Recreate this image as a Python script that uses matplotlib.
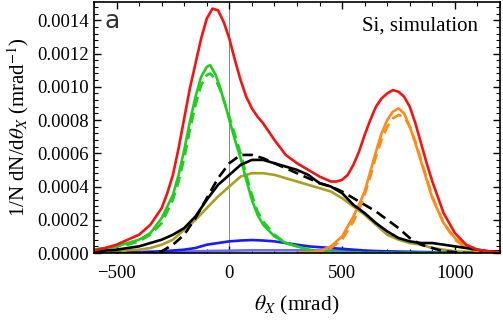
import matplotlib
matplotlib.use("Agg")
import matplotlib.pyplot as plt
from matplotlib.ticker import MultipleLocator, FormatStrFormatter

plt.rcParams['font.family'] = ['Liberation Serif', 'DejaVu Serif']
plt.rcParams['mathtext.fontset'] = 'stix'

# total (red)
red_x = [-600, -550, -500, -450, -400, -350, -300, -275, -250, -225, -200, -175, -150, -125, -100,
         -75, -50, -25, 0, 25, 50, 75, 100, 125, 150, 200, 250, 300, 350, 400, 450, 475, 500, 525,
         550, 575, 600, 625, 650, 675, 700, 725, 750, 775, 800, 825, 850, 875, 900, 950, 1000,
         1050, 1100, 1150, 1200]
red_y = [0.000015, 0.00003, 0.00005, 0.00008, 0.00011, 0.00017, 0.00027, 0.00036, 0.00047, 0.00063,
         0.00081, 0.00099, 0.00114, 0.00129, 0.00141,
         0.00147, 0.00146, 0.00139, 0.00129, 0.00116, 0.00104, 0.00094, 0.00087, 0.00082, 0.00078,
         0.00068, 0.00059, 0.00054, 0.0005, 0.00046, 0.00043, 0.00043, 0.00044, 0.00047,
         0.00053, 0.00061, 0.00071, 0.0008, 0.00088, 0.00093, 0.00096, 0.00098, 0.00097, 0.00094,
         0.00088, 0.00078, 0.00066, 0.00054, 0.00043, 0.00024, 0.00012,
         0.00005, 0.00002, 0.00001, 0.000005]

# left peak (green), solid and dashed
green_x = [-600, -550, -500, -450, -400, -350, -300, -250, -225, -200, -175, -150, -125, -100, -85,
           -60, -40, -20, 0, 25, 50, 75, 100, 125, 150, 200, 250, 300, 350, 400, 450, 600, 900, 1200]
green_y = [0.00002, 0.00003, 0.00004, 0.00006, 0.00008, 0.00012, 0.00021, 0.00035, 0.00047, 0.00062,
           0.00079, 0.00094, 0.00106, 0.00112, 0.00113,
           0.00107, 0.00099, 0.0009, 0.0008, 0.00068, 0.00057, 0.00044, 0.00032, 0.00023, 0.00017,
           0.0001, 0.00006, 0.00004, 0.00002, 0.00001, 0.000005, 0.0, 0.0, 0.0]
green_dash_y = [0.00002, 0.00003, 0.00004, 0.00005, 0.00007, 0.00011, 0.00018, 0.00032, 0.00043,
                0.00057, 0.00074, 0.00089, 0.00101, 0.00107, 0.00108,
                0.00104, 0.00098, 0.0009, 0.00082, 0.00071, 0.0006, 0.00047, 0.00035, 0.00025,
                0.00019, 0.00011, 0.00006, 0.00004, 0.00002, 0.00001, 0.000005, 0.0, 0.0, 0.0]

# right peak (orange), solid and dashed
orange_x = [300, 350, 400, 450, 500, 550, 575, 600, 625, 650, 675, 700, 725, 750, 775, 800, 825,
            850, 875, 900, 950, 1000, 1050, 1100, 1150, 1200]
orange_y = [0.0, 0.000003, 0.00001, 0.00004, 0.0001, 0.00022, 0.00029, 0.00037, 0.00049, 0.00061,
            0.00072, 0.0008, 0.00085, 0.00087, 0.00084, 0.00076, 0.00066, 0.00055, 0.00044,
            0.00033, 0.00018, 0.00009, 0.00004, 0.00001, 0.000005, 0.0]
orange_dash_y = [0.0, 0.000002, 0.000008, 0.00003, 0.00008, 0.00019, 0.00026, 0.00035, 0.00046,
                 0.00058, 0.00068, 0.00076, 0.00081, 0.00083, 0.00082, 0.00076, 0.00067, 0.00056,
                 0.00045, 0.00034, 0.00018, 0.00008, 0.00003, 0.00001, 0.000004, 0.0]

# middle component
mid_x = [-600, -550, -500, -450, -400, -350, -300, -250, -200, -150, -100, -50, 0, 50, 100, 150,
         200, 250, 300, 350, 400, 450, 500, 550, 600, 650, 700, 750, 800, 850, 900, 950, 1000,
         1050, 1100, 1150, 1200]
black_y = [0.00001, 0.000015, 0.00002, 0.00003, 0.00004, 0.00006, 0.00008, 0.00011, 0.00015, 0.00022,
           0.00032, 0.00041, 0.00047, 0.00053, 0.00056, 0.00056, 0.00054, 0.00052, 0.0005, 0.00047,
           0.00042, 0.0004, 0.00036, 0.00029, 0.00024, 0.00018, 0.00013, 0.00009, 0.00007, 0.00006,
           0.00006, 0.00005, 0.00004, 0.00003, 0.00002, 0.00001, 0.00001]
black_dash_y = [0.0, 0.0, 0.0, 0.0, 0.0, 0.0, 0.00001, 0.00005, 0.00011, 0.00021, 0.00033, 0.00045,
                0.00054, 0.00059, 0.00059, 0.00057, 0.00054, 0.00051, 0.00048, 0.00045, 0.00042,
                0.0004, 0.00037, 0.00033, 0.00029, 0.00025, 0.0002, 0.00015, 0.00009, 0.00005,
                0.00003, 0.00001, 0.000005, 0.0, 0.0, 0.0, 0.0]
olive_y = [0.000005, 0.000008, 0.00001, 0.000015, 0.00002, 0.00003, 0.00005, 0.00008, 0.00014, 0.0002,
           0.00027, 0.00034, 0.0004, 0.00046, 0.00048, 0.00048, 0.00047, 0.00045, 0.00043, 0.00041,
           0.00039, 0.00037, 0.00033, 0.00028, 0.00023, 0.00017, 0.00011, 0.00008, 0.00006, 0.00005,
           0.00003, 0.00002, 0.00001, 0.000007, 0.000005, 0.000003, 0.0]
blue_y = [0.0, 0.0, 0.000002, 0.000004, 0.000005, 0.000008, 0.00001, 0.000015, 0.00002, 0.00003,
          0.00005, 0.00006, 0.00007, 0.000075, 0.000078, 0.000075, 0.00007, 0.00006, 0.00005,
          0.00004, 0.000035, 0.00003, 0.000025, 0.00002, 0.000015, 0.000012, 0.00001, 0.000008,
          0.000007, 0.000006, 0.000005, 0.000004, 0.000003, 0.000002, 0.000001, 0.0, 0.0]
blue2_y = [0.0, 0.0, 0.0, 0.0, 0.0, 0.000002, 0.000004, 0.000006, 0.000008, 0.00001, 0.000012,
           0.000013, 0.000014, 0.000015, 0.000016, 0.000016, 0.000016, 0.000016, 0.000016, 0.000015,
           0.000015, 0.000014, 0.000013, 0.000012, 0.00001, 0.000009, 0.000008, 0.000006, 0.000005,
           0.000004, 0.000003, 0.000002, 0.000001, 0.0, 0.0, 0.0, 0.0]

fig = plt.figure(figsize=(5.03, 3.22), dpi=100)
ax = fig.add_axes([94 / 503, 69 / 322, 406 / 503, 251 / 322])

lw = 1.9
dash = (0, (4, 2.2))
ax.axvline(0, color='#888888', lw=0.7, zorder=1)
ax.plot(mid_x, blue2_y, color='#6a6aff', lw=lw)
ax.plot(mid_x, blue_y, color='#1a1aff', lw=lw)
ax.plot(mid_x, olive_y, color='#a8a021', lw=lw)
ax.plot(green_x, green_y, color='#22cc22', lw=lw)
ax.plot(green_x, green_dash_y, color='#22cc22', lw=lw, ls=dash)
ax.plot(orange_x, orange_y, color='#ff8c1a', lw=lw)
ax.plot(orange_x, orange_dash_y, color='#ff8c1a', lw=lw, ls=dash)
ax.plot(mid_x, black_y, color='black', lw=lw)
ax.plot(mid_x, black_dash_y, color='black', lw=lw, ls=dash)
ax.plot(red_x, red_y, color='#f01414', lw=lw)

ax.set_xlim(-600, 1200)
ax.set_ylim(0, 0.00151)
ax.xaxis.set_major_locator(MultipleLocator(500))
ax.xaxis.set_minor_locator(MultipleLocator(100))
ax.yaxis.set_major_locator(MultipleLocator(0.0002))
ax.yaxis.set_minor_locator(MultipleLocator(0.00004))
ax.yaxis.set_major_formatter(FormatStrFormatter('%.4f'))
ax.tick_params(which='both', direction='in', top=True, right=True, labelsize=13.5)
ax.tick_params(which='major', length=5, width=1)
ax.tick_params(which='minor', length=3, width=0.8)
ax.tick_params(axis='x', pad=9)
ax.tick_params(axis='y', pad=4)
for s in ax.spines.values():
    s.set_linewidth(1.2)

ax.set_xlabel(r'$\theta_X$ (mrad)', fontsize=15.5, labelpad=8)
ax.set_ylabel(r'1/N dN/d$\theta_X$ (mrad$^{-1}$)', fontsize=15, labelpad=4)
ax.text(0.945, 0.905, 'Si, simulation', transform=ax.transAxes, ha='right', va='center', fontsize=15)
ax.text(0.025, 0.925, 'a', transform=ax.transAxes, ha='left', va='center', fontsize=18,
        family='DejaVu Sans', color='#333333')

fig.savefig('out.png', dpi=100)
